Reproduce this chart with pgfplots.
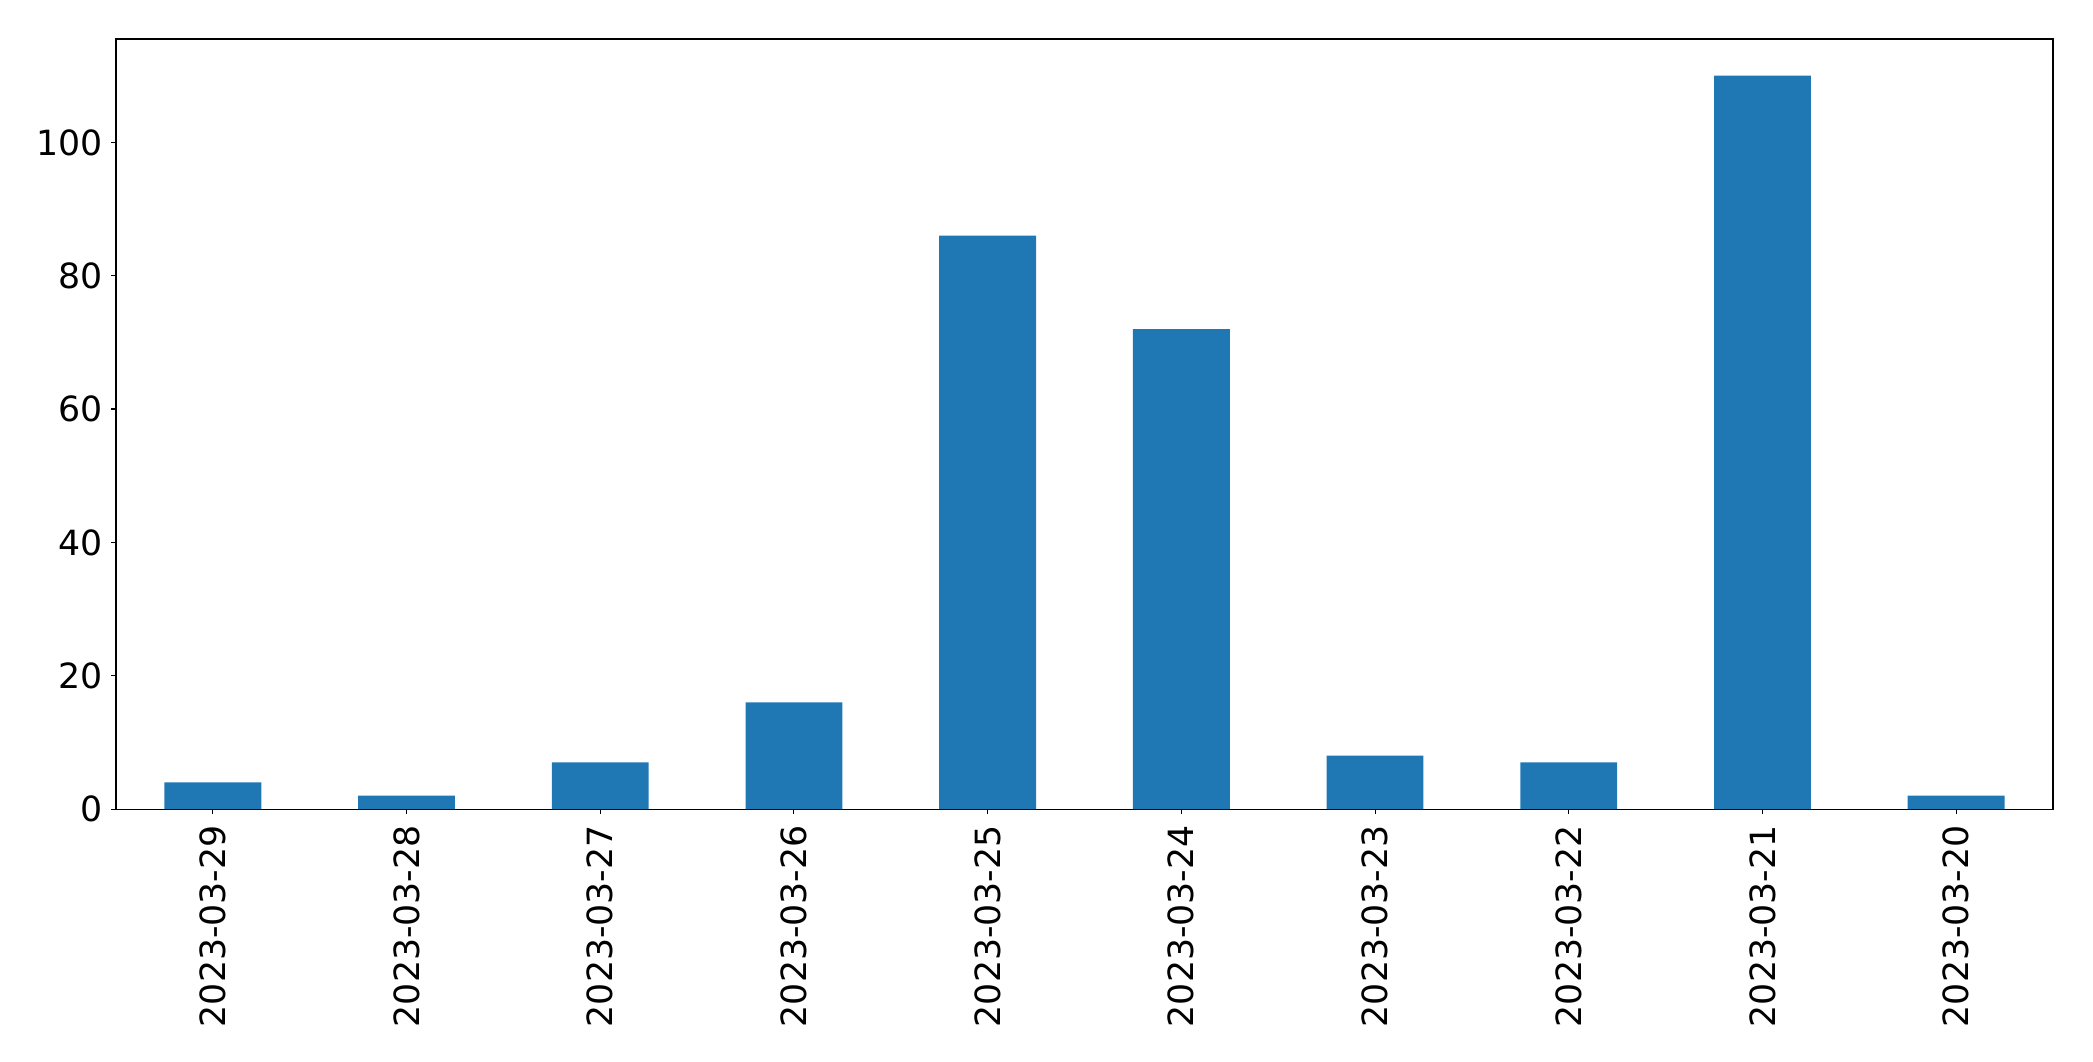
\documentclass[border=0pt]{standalone}
\usepackage{pgfplots}
\pgfplotsset{compat=1.18}
\usepackage{fontspec}
\setmainfont{DejaVu Sans}
\definecolor{mplblue}{HTML}{1F77B4}
\begin{document}
\begin{tikzpicture}
\begin{axis}[
  scale only axis,
  width=1394.6bp, height=554.4bp,
  xmin=-0.5, xmax=9.5, ymin=0, ymax=115.5,
  xtick={0,1,2,3,4,5,6,7,8,9},
  xticklabels={2023-03-29,2023-03-28,2023-03-27,2023-03-26,2023-03-25,2023-03-24,2023-03-23,2023-03-22,2023-03-21,2023-03-20},
  ytick={0,20,40,60,80,100},
  tick align=outside,
  major tick length=3.4bp,
  xtick pos=bottom, ytick pos=left,
  axis line style={line width=0.8bp},
  every tick/.style={line width=0.8bp, black},
  /pgf/number format/assume math mode=true,
  tick label style={font=\fontsize{25bp}{30bp}\selectfont},
  xticklabel style={rotate=90, anchor=east, inner sep=0pt, xshift=-8.1bp},
  yticklabel style={anchor=east, inner sep=0pt, xshift=-6bp},
]
\addplot[ybar, bar width=0.5, fill=mplblue, draw=none] coordinates {
(0,4) (1,2) (2,7) (3,16) (4,86) (5,72) (6,8) (7,7) (8,110) (9,2)
};
\end{axis}
\pgfresetboundingbox
\path (current axis.south west) +(-83.5bp,-181.4bp) (current axis.north east) +(28.8bp,28.1bp);
\end{tikzpicture}
\end{document}
